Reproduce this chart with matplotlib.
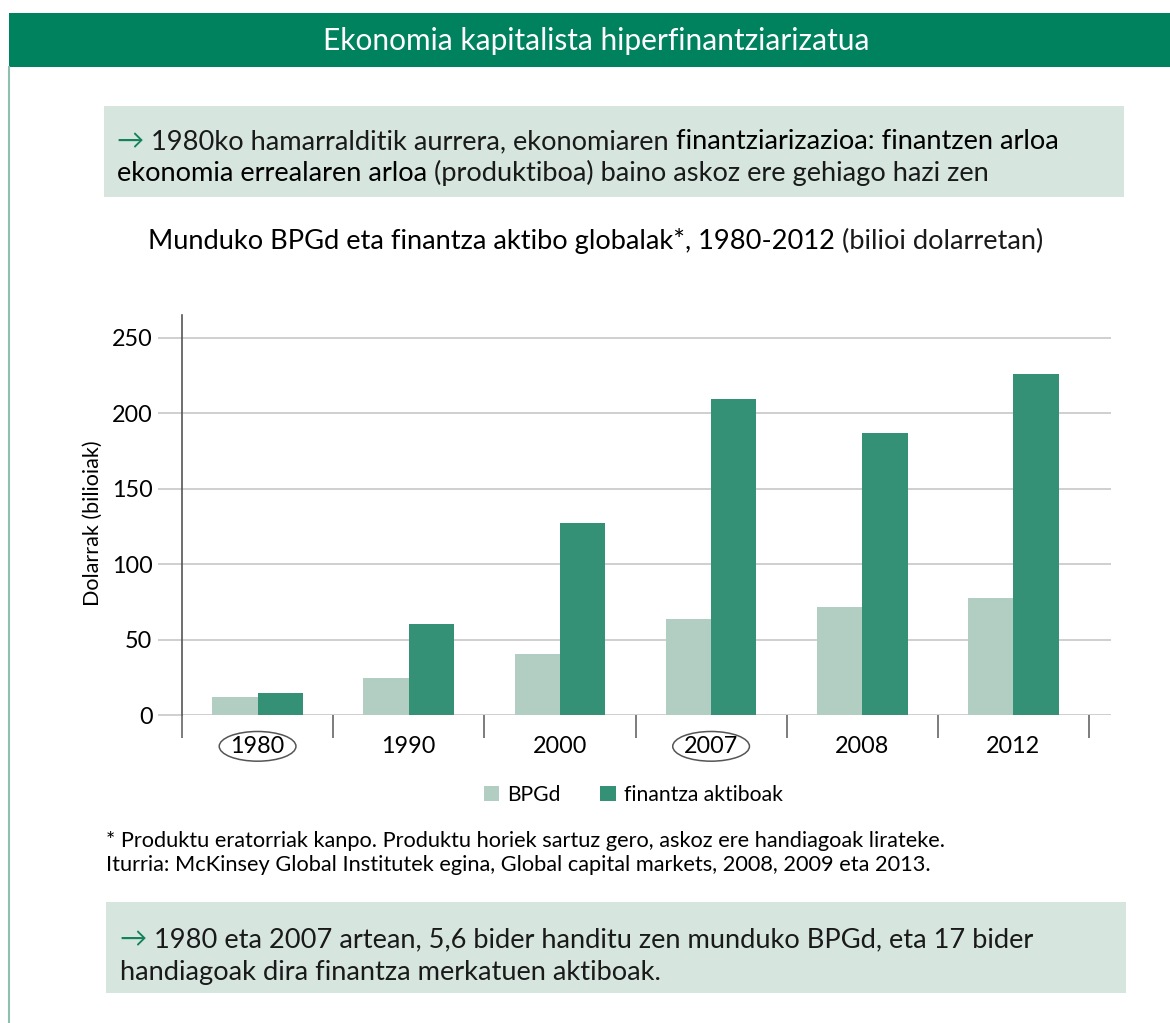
import matplotlib
matplotlib.use("Agg")
import matplotlib.pyplot as plt
import numpy as np
from matplotlib.patches import Rectangle

plt.rcParams['font.family'] = ['Lato', 'DejaVu Sans']

# ---- data ----
years = ["1980", "1990", "2000", "2007", "2008", "2012"]
bpgd = [12, 24.5, 40.5, 63.5, 71.5, 77.5]
finantza = [14.5, 60.5, 127, 209.5, 187, 226]
yticks = [0, 50, 100, 150, 200, 250]
circled = ["1980", "2007"]

C_LIGHT = "#b2cec2"
C_DARK = "#359176"
C_HEAD = "#00825f"
C_BOX = "#d6e6df"

W, H = 1170, 1023
fig = plt.figure(figsize=(W / 100, H / 100), dpi=100)


def fx(x):
    return x / W


def fy(y):
    return 1 - y / H


# header band
fig.patches.append(Rectangle((fx(9), fy(67)), fx(1170 - 9), 54 / H, transform=fig.transFigure,
                             facecolor=C_HEAD, edgecolor="none", zorder=0))
fig.lines.append(plt.Line2D([fx(9), fx(9)], [fy(67), 0], transform=fig.transFigure,
                            color="#8fbfae", lw=1.5))
fig.text(fx(596), fy(50), "Ekonomia kapitalista hiperfinantziarizatua", color="white",
         fontsize=21.5, ha="center", va="baseline")

# boxes
fig.patches.append(Rectangle((fx(104), fy(197)), fx(1124 - 104), 91 / H, transform=fig.transFigure,
                             facecolor=C_BOX, edgecolor="none", zorder=0))
fig.patches.append(Rectangle((fx(106), fy(993)), fx(1126 - 106), 91 / H, transform=fig.transFigure,
                             facecolor=C_BOX, edgecolor="none", zorder=0))


def chained(x, y, parts, fs):
    first_txt, col, wt = parts[0]
    last = fig.text(fx(x), fy(y), first_txt, color=col, fontsize=fs, weight=wt,
                    ha="left", va="baseline")
    for txt, col, wt in parts[1:]:
        a = matplotlib.text.Annotation(txt, xy=(1, 0), xycoords=last, color=col, fontsize=fs,
                                       weight=wt, ha="left", va="bottom", annotation_clip=False)
        fig.add_artist(a)
        last = a
    return last


GREEN_ARROW = "#15805c"
TXT = "#1a1a1a"
fs_box = 19.6
chained(117, 149, [("\u2192 ", GREEN_ARROW, "normal"),
                   ("1980ko hamarralditik aurrera, ekonomiaren ", TXT, "normal"),
                   ("finantziarizazioa: finantzen arloa", "black", "normal")], fs_box)
chained(117, 181, [("ekonomia errealaren arloa", "black", "normal"),
                   (" (produktiboa) baino askoz ere gehiago hazi zen", TXT, "normal")], fs_box)

# chart title
chained(148, 249, [("Munduko BPGd eta finantza aktibo globalak*, 1980-2012 ", "black", "normal"),
                   ("(bilioi dolarretan)", TXT, "normal")], 19.6)

# footnotes
fig.text(fx(106), fy(847), "* Produktu eratorriak kanpo. Produktu horiek sartuz gero, askoz ere handiagoak lirateke.",
         fontsize=15.7, color="black", ha="left", va="baseline")
fig.text(fx(106), fy(871), "Iturria: McKinsey Global Institutek egina, Global capital markets, 2008, 2009 eta 2013.",
         fontsize=15.7, color="black", ha="left", va="baseline")

chained(120, 947, [("\u2192 ", GREEN_ARROW, "normal"),
                   ("1980 eta 2007 artean, 5,6 bider handitu zen munduko BPGd, eta 17 bider", TXT, "normal")], 19.6)
fig.text(fx(120), fy(980), "handiagoak dira finantza merkatuen aktiboak.", color=TXT, fontsize=19.6,
         ha="left", va="baseline")

# ---- chart ----
ax = fig.add_axes([fx(182), fy(715), fx(1111 - 182), (715 - 315) / H])
x = np.arange(len(years))
bw = 0.3
ax.bar(x - bw / 2, bpgd, bw, color=C_LIGHT, label="BPGd", zorder=3)
ax.bar(x + bw / 2, finantza, bw, color=C_DARK, label="finantza aktiboak", zorder=3)

ax.set_xlim(-0.5, len(years) - 0.5 + 22 / 151.2)
ax.set_ylim(0, 265)
ax.set_yticks(yticks)
ax.set_yticklabels([str(v) for v in yticks], fontsize=16.8)
ax.grid(axis="y", color="#cccccc", lw=1.3, zorder=0)
ax.tick_params(axis="y", length=17.3, width=1.3, color="#cccccc", pad=4)
ax.set_xticks(x)
ax.set_xticklabels(years, fontsize=16.8)
ax.tick_params(axis="x", which="major", length=0, pad=15)
ax.set_xticks(np.arange(-0.5, len(years), 1.0), minor=True)
ax.tick_params(axis="x", which="minor", length=16.5, width=1.2, color="#666666", direction="out")
for s in ["top", "right", "bottom"]:
    ax.spines[s].set_visible(False)
ax.spines["left"].set_color("#555555")
ax.spines["left"].set_linewidth(1.2)

for lbl in ax.get_xticklabels():
    if lbl.get_text() in circled:
        lbl.set_bbox(dict(boxstyle="ellipse,pad=0.0", fc="none", ec="#555555", lw=1.1))

fig.text(fx(93), fy(523), "Dolarrak (bilioiak)", rotation=90, fontsize=15.5, ha="center", va="center")

leg = fig.legend(loc="center", bbox_to_anchor=(fx(633), fy(795)), ncol=2, frameon=False,
                 fontsize=15.2, handlelength=0.75, handleheight=0.75, handletextpad=0.35,
                 columnspacing=1.9)

fig.savefig("out.png", dpi=100)
